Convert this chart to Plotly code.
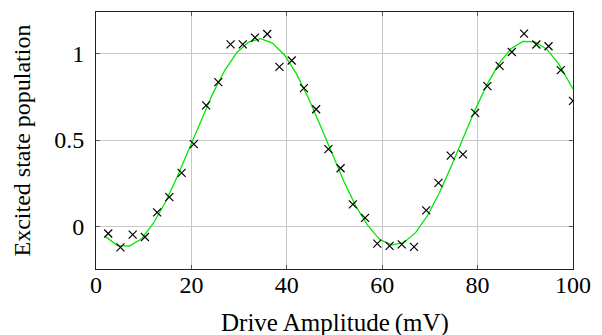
import plotly.graph_objects as go

# Measured data
drive_mV = [2.56, 5.13, 7.69, 10.26, 12.82, 15.38, 17.95, 20.51, 23.08, 25.64,
            28.21, 30.77, 33.33, 35.90, 38.46, 41.03, 43.59, 46.15, 48.72, 51.28,
            53.85, 56.41, 58.97, 61.54, 64.10, 66.67, 69.23, 71.79, 74.36, 76.92,
            79.49, 82.05, 84.62, 87.18, 89.74, 92.31, 94.87, 97.44, 100.0]
population = [-0.04, -0.12, -0.046, -0.06, 0.082, 0.17, 0.31, 0.477, 0.70, 0.835,
              1.053, 1.053, 1.092, 1.113, 0.923, 0.96, 0.80, 0.678, 0.448, 0.337,
              0.128, 0.05, -0.098, -0.111, -0.103, -0.117, 0.094, 0.253, 0.41, 0.417,
              0.657, 0.812, 0.929, 1.009, 1.115, 1.052, 1.042, 0.904, 0.726]

# Fit curve
fit_x = [2, 4.5, 7, 9.5, 12, 14.5, 17, 19.5, 22, 24.5,
         27, 29.5, 32, 34.5, 37, 39.5, 42, 44.5, 47, 49.5,
         52, 54.5, 57, 59.5, 62, 64.5, 67, 69.5, 72, 74.5,
         77, 79.5, 82, 84.5, 87, 89.5, 92, 94.5, 97, 99.5, 100]
fit_y = [-0.058, -0.110, -0.112, -0.072, 0.018, 0.139, 0.287, 0.449, 0.614, 0.770,
         0.903, 1.005, 1.066, 1.086, 1.060, 0.992, 0.884, 0.745, 0.586, 0.420,
         0.259, 0.117, 0.005, -0.075, -0.106, -0.093, -0.035, 0.064, 0.196, 0.350,
         0.513, 0.676, 0.822, 0.943, 1.028, 1.070, 1.068, 1.025, 0.940, 0.822, 0.795]

x_ticks = [0, 20, 40, 60, 80, 100]
y_ticks = [0, 0.5, 1]
y_tick_text = ["0", "0.5", "1"]

FONT = "Times New Roman, Liberation Serif, DejaVu Serif, serif"

fig = go.Figure()
fig.add_trace(go.Scatter(x=fit_x, y=fit_y, mode="lines",
                         line=dict(color="#00e600", width=1.3), showlegend=False))
fig.add_trace(go.Scatter(x=drive_mV, y=population, mode="markers",
                         marker=dict(symbol="x-thin", size=8,
                                     line=dict(color="black", width=1.2)),
                         showlegend=False))

axis_common = dict(showline=True, linecolor="#222", linewidth=1, mirror="ticks",
                   ticks="inside", ticklen=4, tickcolor="#555", tickwidth=1,
                   showgrid=True, gridcolor="#c8c8c8", gridwidth=1,
                   zeroline=False,
                   tickfont=dict(family=FONT, size=24, color="black"))

fig.update_xaxes(range=[0, 100], tickvals=x_ticks, ticklabelstandoff=-6, **axis_common)
fig.update_yaxes(range=[-0.245, 1.24], tickvals=y_ticks, ticktext=y_tick_text,
                 ticklabelstandoff=6, **axis_common)

fig.update_layout(
    width=602, height=335,
    margin=dict(l=96, r=21, t=11, b=66),
    plot_bgcolor="white", paper_bgcolor="white",
    font=dict(family=FONT, color="black"),
    annotations=[
        dict(text="Drive Amplitude\u2009(mV)", xref="paper", yref="paper",
             x=0.5, y=0, xanchor="center", yanchor="middle", yshift=-54,
             showarrow=False, font=dict(family=FONT, size=25, color="black")),
        dict(text="Excited state population", xref="paper", yref="paper",
             x=0, y=0.5, xanchor="center", yanchor="middle", xshift=-75,
             textangle=-90, showarrow=False,
             font=dict(family=FONT, size=24, color="black")),
    ],
)

fig.write_html("out.html")
